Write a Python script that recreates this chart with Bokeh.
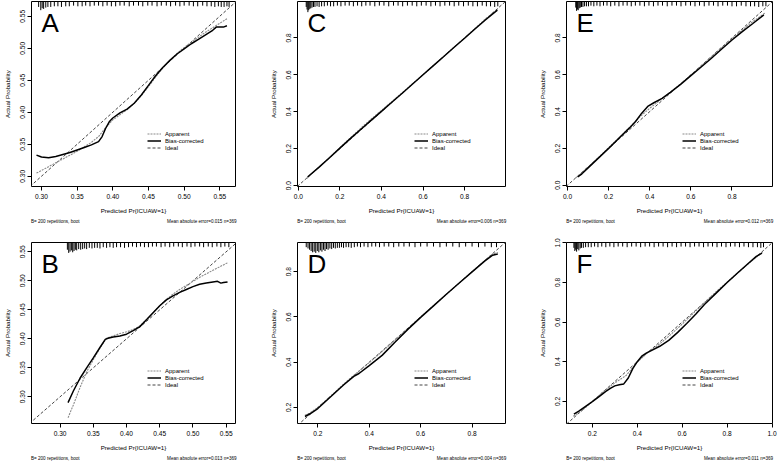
from bokeh.plotting import figure
from bokeh.layouts import row, column
from bokeh.models import (FixedTicker, NumeralTickFormatter, Label, Legend,
                          LegendItem, Range1d, LinearAxis)
from bokeh.embed import file_html
from bokeh.resources import INLINE

FONT = "Liberation Sans"

# ---------------- Panel A ----------------
A_app_x = [0.293, 0.300, 0.310, 0.320, 0.330, 0.340, 0.350, 0.360, 0.370, 0.380, 0.390, 0.400, 0.410, 0.420,
           0.430, 0.440, 0.450, 0.460, 0.470, 0.480, 0.490, 0.500, 0.510, 0.520, 0.530, 0.540, 0.550, 0.560]
A_app_y = [0.305, 0.309, 0.315, 0.321, 0.327, 0.333, 0.339, 0.346, 0.353, 0.362, 0.376, 0.388, 0.396, 0.404,
           0.414, 0.426, 0.440, 0.455, 0.469, 0.481, 0.492, 0.501, 0.509, 0.517, 0.525, 0.532, 0.539, 0.546]
A_bc_x = [0.293, 0.300, 0.310, 0.320, 0.330, 0.340, 0.350, 0.360, 0.370, 0.380, 0.385, 0.390, 0.395, 0.400,
          0.410, 0.420, 0.430, 0.440, 0.450, 0.460, 0.470, 0.480, 0.490, 0.500, 0.510, 0.520, 0.530, 0.540,
          0.545, 0.550, 0.555, 0.560]
A_bc_y = [0.333, 0.330, 0.329, 0.331, 0.334, 0.337, 0.341, 0.345, 0.349, 0.354, 0.362, 0.375, 0.385, 0.391,
          0.399, 0.405, 0.414, 0.427, 0.442, 0.457, 0.470, 0.481, 0.491, 0.499, 0.507, 0.514, 0.521, 0.528,
          0.533, 0.533, 0.533, 0.535]
A_rug_x = [0.296, 0.299, 0.301, 0.303, 0.306, 0.309, 0.313, 0.318, 0.323, 0.328, 0.334, 0.339, 0.345, 0.351,
           0.357, 0.362, 0.368, 0.374, 0.380, 0.386, 0.392, 0.398, 0.404, 0.410, 0.416, 0.423, 0.429, 0.436,
           0.442, 0.449, 0.455, 0.462, 0.468, 0.475, 0.481, 0.488, 0.494, 0.500, 0.507, 0.513, 0.519, 0.526,
           0.532, 0.538, 0.543, 0.548, 0.552, 0.556, 0.560, 0.563]
A_rug_n = [3, 8, 5, 6, 4, 3, 3, 2, 2, 3, 2, 2, 1, 2, 2, 1, 2, 1, 1, 2, 1, 2, 2, 1, 1, 2, 1, 1, 2, 1, 1, 2, 1,
           1, 2, 1, 2, 1, 1, 2, 2, 1, 2, 2, 3, 2, 3, 3, 2, 3]

# ---------------- Panel B ----------------
B_app_x = [0.312, 0.320, 0.330, 0.340, 0.350, 0.360, 0.370, 0.380, 0.390, 0.400, 0.410, 0.420, 0.430, 0.440,
           0.450, 0.460, 0.470, 0.480, 0.490, 0.500, 0.510, 0.520, 0.530, 0.540, 0.552]
B_app_y = [0.264, 0.286, 0.316, 0.343, 0.364, 0.384, 0.401, 0.405, 0.409, 0.412, 0.416, 0.422, 0.433, 0.445,
           0.457, 0.468, 0.477, 0.485, 0.492, 0.499, 0.506, 0.512, 0.518, 0.524, 0.531]
B_bc_x = [0.312, 0.320, 0.330, 0.340, 0.350, 0.360, 0.368, 0.372, 0.380, 0.390, 0.400, 0.410, 0.420, 0.430,
          0.440, 0.450, 0.460, 0.470, 0.480, 0.490, 0.500, 0.510, 0.520, 0.530, 0.537, 0.542, 0.546, 0.552]
B_bc_y = [0.290, 0.310, 0.332, 0.350, 0.367, 0.385, 0.399, 0.401, 0.403, 0.405, 0.408, 0.414, 0.421, 0.433,
          0.445, 0.457, 0.467, 0.474, 0.480, 0.485, 0.490, 0.494, 0.496, 0.498, 0.499, 0.496, 0.497, 0.498]
B_rug_x = [0.311, 0.313, 0.315, 0.317, 0.319, 0.321, 0.323, 0.325, 0.328, 0.331, 0.334, 0.337, 0.340, 0.344,
           0.348, 0.352, 0.356, 0.360, 0.365, 0.370, 0.375, 0.380, 0.385, 0.391, 0.397, 0.403, 0.409, 0.415,
           0.421, 0.427, 0.433, 0.439, 0.445, 0.452, 0.458, 0.465, 0.471, 0.478, 0.484, 0.491, 0.497, 0.503,
           0.510, 0.516, 0.523, 0.529, 0.536, 0.542, 0.548, 0.554]
B_rug_n = [6, 11, 9, 7, 10, 8, 6, 7, 5, 6, 5, 4, 5, 3, 4, 3, 3, 4, 2, 3, 2, 3, 2, 2, 3, 2, 1, 2, 1, 2, 2, 1,
           1, 2, 1, 2, 1, 1, 2, 1, 2, 1, 1, 2, 1, 2, 1, 2, 1, 2]

# ---------------- Panel C ----------------
C_app_x = [0.040, 0.050, 0.100, 0.150, 0.200, 0.250, 0.300, 0.350, 0.400, 0.450, 0.500, 0.550, 0.600, 0.650,
           0.700, 0.750, 0.800, 0.850, 0.900, 0.940, 0.960]
C_app_y = [0.038, 0.049, 0.101, 0.152, 0.206, 0.258, 0.310, 0.360, 0.407, 0.455, 0.503, 0.552, 0.600, 0.650,
           0.700, 0.750, 0.800, 0.851, 0.902, 0.938, 0.955]
C_bc_x = [0.045, 0.050, 0.100, 0.150, 0.200, 0.250, 0.300, 0.350, 0.400, 0.450, 0.500, 0.550, 0.600, 0.650,
          0.700, 0.750, 0.800, 0.850, 0.900, 0.940, 0.958]
C_bc_y = [0.046, 0.052, 0.100, 0.151, 0.203, 0.254, 0.304, 0.353, 0.402, 0.451, 0.500, 0.550, 0.600, 0.650,
          0.699, 0.749, 0.798, 0.848, 0.897, 0.934, 0.950]
C_rug_x = [0.038, 0.042, 0.046, 0.050, 0.055, 0.060, 0.066, 0.073, 0.080, 0.090, 0.100, 0.112, 0.125, 0.140,
           0.155, 0.170, 0.188, 0.205, 0.225, 0.245, 0.265, 0.285, 0.305, 0.325, 0.345, 0.368, 0.390, 0.412,
           0.435, 0.458, 0.480, 0.502, 0.525, 0.548, 0.570, 0.592, 0.615, 0.638, 0.660, 0.682, 0.705, 0.728,
           0.750, 0.772, 0.795, 0.818, 0.840, 0.862, 0.885, 0.905, 0.925, 0.945, 0.960]
C_rug_n = [3, 7, 11, 8, 6, 5, 4, 3, 3, 2, 3, 2, 2, 1, 2, 2, 1, 2, 1, 1, 2, 1, 2, 1, 1, 2, 1, 1, 2, 1, 1, 2, 1,
           1, 2, 1, 1, 2, 1, 2, 1, 1, 2, 1, 2, 1, 2, 2, 1, 2, 2, 3, 2]

# ---------------- Panel D ----------------
D_app_x = [0.150, 0.170, 0.200, 0.250, 0.300, 0.340, 0.370, 0.400, 0.450, 0.500, 0.550, 0.600, 0.650, 0.700,
           0.750, 0.800, 0.850, 0.880, 0.900]
D_app_y = [0.165, 0.176, 0.200, 0.250, 0.303, 0.342, 0.370, 0.398, 0.447, 0.497, 0.548, 0.600, 0.650, 0.700,
           0.750, 0.800, 0.850, 0.878, 0.885]
D_bc_x = [0.150, 0.170, 0.200, 0.250, 0.300, 0.340, 0.360, 0.400, 0.450, 0.500, 0.550, 0.600, 0.650, 0.700,
          0.750, 0.800, 0.850, 0.880, 0.900]
D_bc_y = [0.160, 0.172, 0.195, 0.247, 0.299, 0.337, 0.350, 0.385, 0.430, 0.488, 0.545, 0.598, 0.649, 0.700,
          0.750, 0.799, 0.848, 0.873, 0.878]
D_rug_x = [0.155, 0.162, 0.168, 0.174, 0.180, 0.186, 0.192, 0.198, 0.204, 0.210, 0.216, 0.222, 0.228, 0.234,
           0.240, 0.247, 0.254, 0.261, 0.268, 0.276, 0.284, 0.292, 0.300, 0.310, 0.320, 0.330, 0.342, 0.354,
           0.366, 0.380, 0.395, 0.410, 0.425, 0.440, 0.458, 0.476, 0.495, 0.515, 0.535, 0.556, 0.578, 0.600,
           0.625, 0.650, 0.675, 0.700, 0.725, 0.750, 0.775, 0.800, 0.825, 0.850, 0.875, 0.895]
D_rug_n = [2, 4, 6, 8, 10, 9, 11, 8, 10, 7, 9, 6, 8, 5, 6, 4, 5, 3, 4, 3, 3, 2, 3, 2, 2, 3, 2, 1, 2, 1, 2, 1,
           1, 2, 1, 1, 2, 1, 1, 1, 2, 1, 1, 1, 2, 1, 1, 2, 1, 1, 2, 1, 2, 2]

# ---------------- Panel E ----------------
E_app_x = [0.040, 0.060, 0.100, 0.150, 0.200, 0.250, 0.300, 0.350, 0.400, 0.450, 0.500, 0.550, 0.600, 0.650,
           0.700, 0.750, 0.800, 0.850, 0.900, 0.960]
E_app_y = [0.040, 0.058, 0.098, 0.150, 0.204, 0.258, 0.312, 0.370, 0.418, 0.462, 0.505, 0.550, 0.598, 0.647,
           0.697, 0.746, 0.795, 0.843, 0.888, 0.935]
E_bc_x = [0.050, 0.070, 0.100, 0.150, 0.200, 0.250, 0.300, 0.330, 0.360, 0.390, 0.420, 0.460, 0.500, 0.550,
          0.600, 0.650, 0.700, 0.750, 0.800, 0.850, 0.900, 0.955]
E_bc_y = [0.045, 0.062, 0.094, 0.147, 0.200, 0.255, 0.310, 0.345, 0.390, 0.428, 0.448, 0.472, 0.504, 0.548,
          0.595, 0.642, 0.690, 0.740, 0.789, 0.834, 0.877, 0.925]
E_rug_x = [0.040, 0.044, 0.048, 0.052, 0.057, 0.062, 0.068, 0.075, 0.083, 0.092, 0.102, 0.114, 0.128, 0.143,
           0.158, 0.175, 0.192, 0.210, 0.230, 0.250, 0.270, 0.290, 0.310, 0.330, 0.352, 0.374, 0.396, 0.418,
           0.440, 0.462, 0.485, 0.508, 0.530, 0.552, 0.575, 0.598, 0.620, 0.642, 0.665, 0.688, 0.710, 0.732,
           0.755, 0.778, 0.800, 0.822, 0.845, 0.868, 0.890, 0.910, 0.930, 0.950, 0.965]
E_rug_n = [4, 9, 7, 8, 5, 4, 3, 3, 2, 2, 2, 1, 2, 1, 2, 1, 1, 2, 1, 2, 1, 1, 2, 1, 1, 2, 1, 2, 1, 1, 2, 1, 1,
           2, 1, 1, 2, 1, 2, 1, 1, 2, 1, 1, 2, 2, 1, 2, 2, 2, 3, 2, 2]

# ---------------- Panel F ----------------
F_app_x = [0.115, 0.150, 0.200, 0.250, 0.300, 0.350, 0.400, 0.450, 0.500, 0.550, 0.600, 0.650, 0.700, 0.750,
           0.800, 0.850, 0.900, 0.960]
F_app_y = [0.125, 0.150, 0.198, 0.250, 0.293, 0.330, 0.398, 0.450, 0.490, 0.538, 0.590, 0.645, 0.700, 0.752,
           0.802, 0.852, 0.900, 0.955]
F_bc_x = [0.118, 0.140, 0.170, 0.200, 0.230, 0.260, 0.280, 0.300, 0.320, 0.340, 0.360, 0.380, 0.400, 0.420,
          0.440, 0.460, 0.500, 0.540, 0.580, 0.620, 0.660, 0.700, 0.750, 0.800, 0.850, 0.900, 0.930, 0.955]
F_bc_y = [0.135, 0.150, 0.175, 0.198, 0.224, 0.250, 0.265, 0.278, 0.284, 0.288, 0.318, 0.365, 0.400, 0.428,
          0.443, 0.455, 0.478, 0.508, 0.548, 0.593, 0.640, 0.690, 0.745, 0.800, 0.852, 0.902, 0.932, 0.948]
F_rug_x = [0.118, 0.122, 0.126, 0.130, 0.135, 0.140, 0.146, 0.152, 0.160, 0.170, 0.182, 0.195, 0.210, 0.225,
           0.242, 0.260, 0.278, 0.296, 0.315, 0.335, 0.355, 0.375, 0.395, 0.415, 0.435, 0.455, 0.475, 0.495,
           0.515, 0.535, 0.555, 0.575, 0.595, 0.615, 0.635, 0.655, 0.675, 0.695, 0.715, 0.735, 0.755, 0.775,
           0.795, 0.815, 0.835, 0.855, 0.875, 0.895, 0.915, 0.935, 0.950, 0.962]
F_rug_n = [3, 8, 6, 9, 5, 7, 4, 3, 3, 2, 2, 2, 1, 2, 1, 2, 1, 2, 1, 1, 2, 1, 1, 2, 1, 1, 2, 1, 1, 2, 1, 2, 1,
           1, 2, 1, 1, 2, 1, 1, 2, 1, 2, 1, 1, 2, 1, 2, 2, 2, 3, 2]

X_LABEL = "Predicted Pr{ICUAW=1}"
Y_LABEL = "Actual Probability"
FOOT_LEFT = "B= 200 repetitions, boot"
LEGEND_LABELS = ["Apparent", "Bias-corrected", "Ideal"]

panels = {
    "A": dict(app=(A_app_x, A_app_y), bc=(A_bc_x, A_bc_y), rug=(A_rug_x, A_rug_n),
              xlim=(0.286, 0.572), ylim=(0.284, 0.573),
              xt=[0.30, 0.35, 0.40, 0.45, 0.50, 0.55], yt=[0.30, 0.35, 0.40, 0.45, 0.50, 0.55],
              fmt="0.00", foot="Mean absolute error=0.015 n=369"),
    "B": dict(app=(B_app_x, B_app_y), bc=(B_bc_x, B_bc_y), rug=(B_rug_x, B_rug_n),
              xlim=(0.257, 0.564), ylim=(0.254, 0.566),
              xt=[0.30, 0.35, 0.40, 0.45, 0.50, 0.55], yt=[0.30, 0.35, 0.40, 0.45, 0.50, 0.55],
              fmt="0.00", foot="Mean absolute error=0.013 n=369"),
    "C": dict(app=(C_app_x, C_app_y), bc=(C_bc_x, C_bc_y), rug=(C_rug_x, C_rug_n),
              xlim=(-0.004, 0.997), ylim=(-0.005, 0.997),
              xt=[0.0, 0.2, 0.4, 0.6, 0.8], yt=[0.0, 0.2, 0.4, 0.6, 0.8],
              fmt="0.0", foot="Mean absolute error=0.006 n=369"),
    "D": dict(app=(D_app_x, D_app_y), bc=(D_bc_x, D_bc_y), rug=(D_rug_x, D_rug_n),
              xlim=(0.121, 0.930), ylim=(0.129, 0.929),
              xt=[0.2, 0.4, 0.6, 0.8], yt=[0.2, 0.4, 0.6, 0.8],
              fmt="0.0", foot="Mean absolute error=0.004 n=369"),
    "E": dict(app=(E_app_x, E_app_y), bc=(E_bc_x, E_bc_y), rug=(E_rug_x, E_rug_n),
              xlim=(-0.005, 0.997), ylim=(-0.007, 0.998),
              xt=[0.0, 0.2, 0.4, 0.6, 0.8], yt=[0.0, 0.2, 0.4, 0.6, 0.8],
              fmt="0.0", foot="Mean absolute error=0.012 n=369"),
    "F": dict(app=(F_app_x, F_app_y), bc=(F_bc_x, F_bc_y), rug=(F_rug_x, F_rug_n),
              xlim=(0.085, 1.002), ylim=(0.088, 1.002),
              xt=[0.2, 0.4, 0.6, 0.8, 1.0], yt=[0.2, 0.4, 0.6, 0.8, 1.0],
              fmt="0.0", foot="Mean absolute error=0.011 n=369"),
}


def style_axis(ax, size):
    ax.axis_line_color = None
    ax.major_tick_line_color = "black"
    ax.major_tick_out = 4
    ax.major_tick_in = 0
    ax.minor_tick_line_color = None
    ax.major_label_text_font = FONT
    ax.major_label_text_font_size = size
    ax.major_label_text_color = "black"
    ax.axis_label_text_font = FONT
    ax.axis_label_text_font_size = "6.2px"
    ax.axis_label_text_font_style = "normal"
    ax.axis_label_text_color = "black"


def make_panel(key, width, height, bl, br, bt, bb, letter_off):
    c = panels[key]
    x0, x1 = c["xlim"]
    y0, y1 = c["ylim"]
    fw = width - bl - br
    fh = height - bt - bb
    xs = (x1 - x0) / fw   # data units per pixel
    ys = (y1 - y0) / fh
    p = figure(width=width, height=height, x_range=Range1d(x0, x1), y_range=Range1d(y0, y1),
               output_backend="svg", toolbar_location=None,
               min_border_left=bl, min_border_right=br, min_border_top=bt, min_border_bottom=bb)
    p.xgrid.visible = False
    p.ygrid.visible = False
    p.outline_line_color = "black"
    p.outline_line_width = 1
    p.outline_line_alpha = 1
    p.background_fill_color = "white"
    p.border_fill_color = "white"

    for ax, ticks in ((p.xaxis[0], c["xt"]), (p.yaxis[0], c["yt"])):
        ax.ticker = FixedTicker(ticks=ticks)
        ax.formatter = NumeralTickFormatter(format=c["fmt"])
        style_axis(ax, "6.6px")
    p.xaxis[0].axis_label = X_LABEL
    p.xaxis[0].major_label_standoff = 3
    p.xaxis[0].axis_label_standoff = 5
    p.yaxis[0].axis_label = Y_LABEL
    p.yaxis[0].major_label_orientation = "vertical"
    p.yaxis[0].major_label_standoff = 2
    p.yaxis[0].axis_label_standoff = 7

    # footnote line below the x-axis title, drawn as a tick-less axis
    tl = round(x0 + 24 * xs, 5)
    tr = round(x1 - 34 * xs, 5)
    foot_ax = LinearAxis(ticker=FixedTicker(ticks=[tl, tr]),
                         major_label_overrides={tl: FOOT_LEFT, tr: c["foot"]})
    style_axis(foot_ax, "4.6px")
    foot_ax.major_tick_line_color = None
    foot_ax.major_tick_out = 0
    foot_ax.major_label_standoff = 2
    p.add_layout(foot_ax, "below")

    # rug of predicted values hanging from the top border
    rx, rn = c["rug"]
    p.segment(x0=rx, y0=[y1] * len(rx), x1=rx, y1=[y1 - (3.5 + 0.65 * n) * ys for n in rn],
              line_color="black", line_width=1)

    lo = min(x0, y0)
    hi = max(x1, y1)
    r_ideal = p.line([lo, hi], [lo, hi], line_color="#444444", line_width=1, line_dash="3 2")
    r_app = p.line(c["app"][0], c["app"][1], line_color="#8a8a8a", line_width=1.1, line_dash="2 1")
    r_bc = p.line(c["bc"][0], c["bc"][1], line_color="black", line_width=1.5)

    legend = Legend(items=[LegendItem(label=LEGEND_LABELS[0], renderers=[r_app]),
                           LegendItem(label=LEGEND_LABELS[1], renderers=[r_bc]),
                           LegendItem(label=LEGEND_LABELS[2], renderers=[r_ideal])],
                    location=(int(0.565 * fw), int(0.29 * fh - 18)))
    legend.label_text_font = FONT
    legend.label_text_font_size = "6px"
    legend.label_text_color = "black"
    legend.glyph_width = 14
    legend.glyph_height = 7
    legend.label_height = 7
    legend.label_standoff = 4
    legend.spacing = 0
    legend.padding = 0
    legend.margin = 0
    legend.border_line_color = None
    legend.background_fill_alpha = 0
    p.add_layout(legend)

    # panel letter
    p.add_layout(Label(x=x0 + 10 * xs, y=y1 - letter_off * ys, text=key,
                       text_font=FONT, text_font_size="26px", text_baseline="top",
                       text_color="black"))
    return p


pA = make_panel("A", 258, 230, 29, 23, 1, 44, 6)
pC = make_panel("C", 258, 230, 39, 11, 1, 44, 6)
pE = make_panel("E", 261, 230, 50, 5, 1, 44, 6)
pB = make_panel("B", 258, 233, 29, 23, 12, 36, 7)
pD = make_panel("D", 258, 233, 39, 11, 12, 36, 7)
pF = make_panel("F", 261, 233, 50, 5, 12, 36, 7)

layout = column(row(pA, pC, pE, spacing=0), row(pB, pD, pF, spacing=0), spacing=0)

open("out.html", "w").write(file_html(layout, INLINE))
